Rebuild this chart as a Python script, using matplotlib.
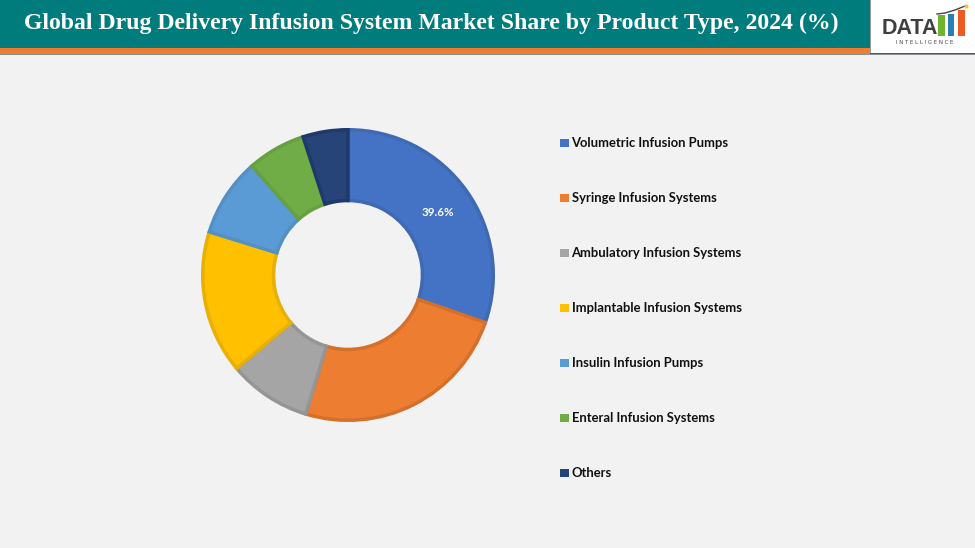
import matplotlib
matplotlib.use("Agg")
import matplotlib.pyplot as plt
from matplotlib.patches import Rectangle

# values, the 39.6% label is what the chart prints
categories = [
    "Volumetric Infusion Pumps",
    "Syringe Infusion Systems",
    "Ambulatory Infusion Systems",
    "Implantable Infusion Systems",
    "Insulin Infusion Pumps",
    "Enteral Infusion Systems",
    "Others",
]
shares = [30.3, 24.4, 9.2, 15.9, 8.7, 6.5, 5.0]
first_label = "39.6%"
title = "Global Drug Delivery Infusion System Market Share by Product Type, 2024 (%)"

colors = ["#4472C4", "#ED7D31", "#A5A5A5", "#FFC000", "#5B9BD5", "#70AD47", "#264478"]
edges = ["#3F69B3", "#D5702C", "#959595", "#E8AF05", "#5390C6", "#67A040", "#21396A"]

W, H = 975, 548
fig = plt.figure(figsize=(W / 100, H / 100), dpi=100, facecolor="#F2F2F2")

# background layer in pixel coordinates, y pointing down
bg = fig.add_axes([0, 0, 1, 1])
bg.set_xlim(0, W)
bg.set_ylim(H, 0)
bg.axis("off")

# header band
bg.add_patch(Rectangle((0, 0), W, 47.5, color="#007C7C", lw=0))
bg.add_patch(Rectangle((0, 47.5), W, 6.5, color="#ED7D31", lw=0))
bg.add_patch(Rectangle((0, 54), W, 1.2, color="#8A8F96", lw=0))
bg.text(431.5, 23, title, color="white", ha="center", va="center",
        family="Liberation Serif", weight="bold", fontsize=17.1)

# logo box
bg.add_patch(Rectangle((870, 0), 105, 53, color="white", lw=0))
bg.add_patch(Rectangle((870, 0), 1.2, 53, color="#9A9A9A", lw=0))
bg.add_patch(Rectangle((870, 52.5), 105, 1.5, color="#555555", lw=0))
bg.text(881.5, 34.5, "DATA", color="#3F3F3F", ha="left", va="baseline",
        family="Liberation Sans", weight="bold", fontsize=15.5)
for x, w, top, c in [(937.5, 7.5, 15, "#6FB52C"), (947.5, 6, 13.5, "#2A7FB8"), (958, 7, 10, "#EE5A24")]:
    bg.add_patch(Rectangle((x, top), w, 35.5 - top, color=c, lw=0))
bg.plot([937, 945, 955, 965], [14, 13, 10, 6], color="#444444", lw=1)
bg.plot([966], [5.5], "o", color="#F2C14E", ms=2)
bg.text(924.5, 42, "I N T E L L I G E N C E", color="#444444", ha="center",
        va="center", family="DejaVu Sans", fontsize=3.9)

# donut, centre (349, 275), radius 146 px
R = 146
cx, cy = 348, 275
ax = fig.add_axes([(cx - R) / W, 1 - (cy + R) / H, 2 * R / W, 2 * R / H])
wedges, _ = ax.pie(shares, colors=colors, startangle=90, counterclock=False,
                   radius=0.995, wedgeprops=dict(width=0.485, linewidth=2.5))
for w, e in zip(wedges, edges):
    w.set_edgecolor(e)
ax.set_xlim(-1, 1)
ax.set_ylim(-1, 1)
ax.set_aspect("equal")
ax.text(0.615, 0.43, first_label, color="white", ha="center", va="center",
        family="Lato", weight="bold", fontsize=8.4)

# legend drawn by hand so the rows sit 55 px apart
for i, (name, c) in enumerate(zip(categories, colors)):
    y = 143 + 55 * i
    bg.add_patch(Rectangle((560, y - 4.25), 8.5, 8.5, color=c, lw=0))
    bg.text(571.5, y + 4, name, color="#111111", ha="left", va="baseline",
            family="Lato", weight="bold", fontsize=9.4)

fig.savefig("out.png", dpi=100, facecolor=fig.get_facecolor())
